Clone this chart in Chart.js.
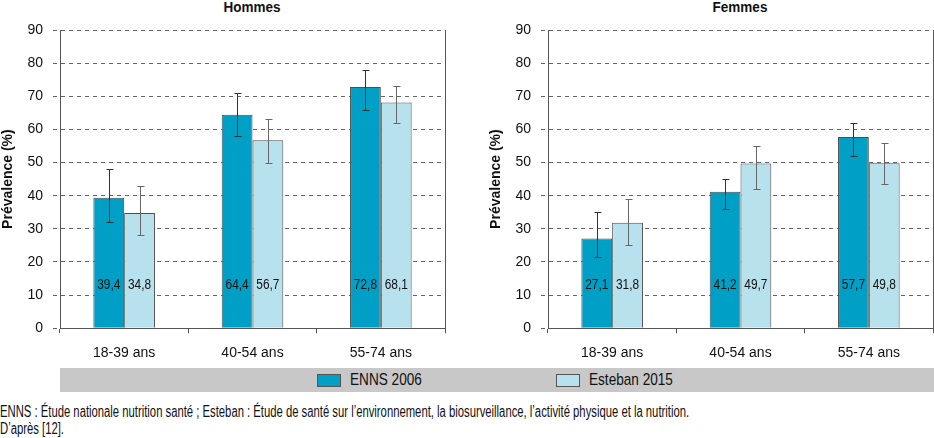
<!DOCTYPE html>
<html>
<head>
<meta charset="utf-8">
<script src="https://cdn.jsdelivr.net/npm/chart.js@4.4.0/dist/chart.umd.min.js"></script>
<style>
html,body{margin:0;padding:0;background:#fff;width:934px;height:438px;overflow:hidden;}
.box{position:absolute;top:0;width:446px;height:374px;}
.title{position:absolute;top:-1px;width:200px;text-align:center;font:bold 15px/16px "Liberation Sans",Arial,sans-serif;color:#111;transform:scaleX(0.9);transform-origin:center;}
#legend{position:absolute;left:60px;top:368px;width:874px;height:24px;background:#c8c8c8;font:17px "Liberation Sans",Arial,sans-serif;color:#111;}
.item{position:absolute;top:0;height:24px;display:flex;align-items:center;}
.sw{width:22px;height:11px;border:1px solid #555;margin-right:9px;}
.lt{display:inline-block;transform:scaleX(0.8);transform-origin:left center;white-space:nowrap;}
#note{position:absolute;left:0;top:403px;font:16px/17px "Liberation Sans",Arial,sans-serif;color:#111;white-space:nowrap;transform:scaleX(0.705);transform-origin:left top;}
</style>
</head>
<body>
<div class="title" style="left:152px">Hommes</div>
<div class="title" style="left:640px">Femmes</div>
<div class="box" style="left:0"><canvas id="c1" width="446" height="374"></canvas></div>
<div class="box" style="left:488px"><canvas id="c2" width="446" height="374"></canvas></div>
<div id="legend">
  <div class="item" style="left:257px"><div class="sw" style="background:#00a0c6"></div><span class="lt" id="l1"></span></div>
  <div class="item" style="left:496px"><div class="sw" style="background:#b8e1ee"></div><span class="lt" id="l2"></span></div>
</div>
<div id="note">ENNS : Étude nationale nutrition santé ; Esteban : Étude de santé sur l’environnement, la biosurveillance, l’activité physique et la nutrition.<br>D’après [12].</div>
<script>
// ---- Data ----
const categories = ['18-39 ans', '40-54 ans', '55-74 ans'];
const seriesNames = ['ENNS 2006', 'Esteban 2015'];
const yTickValues = [0, 10, 20, 30, 40, 50, 60, 70, 80, 90];

const hommesENNS = [39.4, 64.4, 72.8];
const hommesEsteban = [34.8, 56.7, 68.1];
const femmesENNS = [27.1, 41.2, 57.7];
const femmesEsteban = [31.8, 49.7, 49.8];

const hommesENNSLow = [32, 58, 66];
const hommesENNSHigh = [48, 71, 78];
const hommesEstebanLow = [28, 50, 62];
const hommesEstebanHigh = [43, 63, 73];
const femmesENNSLow = [21.5, 36, 52];
const femmesENNSHigh = [35, 45, 62];
const femmesEstebanLow = [25, 42, 43.5];
const femmesEstebanHigh = [39, 55, 56];

const colENNS = '#00a0c6';
const colEsteban = '#b8e1ee';

document.getElementById('l1').textContent = seriesNames[0];
document.getElementById('l2').textContent = seriesNames[1];

function errorBarPlugin(lows, highs, colors) {
  return {
    id: 'errorBars',
    afterDatasetsDraw(chart) {
      const ctx = chart.ctx, y = chart.scales.y;
      lows.forEach((low, di) => {
        const meta = chart.getDatasetMeta(di);
        meta.data.forEach((bar, i) => {
          const x = Math.round(bar.x) + 0.5;
          const yl = Math.round(y.getPixelForValue(low[i])) + 0.5;
          const yh = Math.round(y.getPixelForValue(highs[di][i])) + 0.5;
          ctx.save();
          ctx.strokeStyle = colors[di];
          ctx.lineWidth = 1;
          ctx.beginPath();
          ctx.moveTo(x, yl); ctx.lineTo(x, yh);
          ctx.moveTo(x - 3, yl); ctx.lineTo(x + 4, yl);
          ctx.moveTo(x - 3, yh); ctx.lineTo(x + 4, yh);
          ctx.stroke();
          ctx.restore();
        });
      });
    }
  };
}

const valueLabelPlugin = {
  id: 'valueLabels',
  afterDatasetsDraw(chart) {
    const ctx = chart.ctx, y = chart.scales.y;
    chart.data.datasets.forEach((ds, di) => {
      const meta = chart.getDatasetMeta(di);
      meta.data.forEach((bar, i) => {
        ctx.save();
        ctx.translate(bar.x, y.getPixelForValue(13));
        ctx.scale(0.85, 1);
        ctx.font = '14px "Liberation Sans", Arial, sans-serif';
        ctx.fillStyle = '#111';
        ctx.textAlign = 'center';
        ctx.textBaseline = 'middle';
        ctx.fillText(String(ds.data[i]).replace('.', ','), 0, 0);
        ctx.restore();
      });
    });
  }
};

function makeChart(id, enns, est, lows, highs) {
  return new Chart(document.getElementById(id), {
    type: 'bar',
    data: {
      labels: categories,
      datasets: [
        { label: seriesNames[0], data: enns, backgroundColor: colENNS, borderColor: '#4d4d4d', borderWidth: 1, categoryPercentage: 0.48, barPercentage: 1 },
        { label: seriesNames[1], data: est, backgroundColor: colEsteban, borderColor: '#4d4d4d', borderWidth: 1, categoryPercentage: 0.48, barPercentage: 1 }
      ]
    },
    options: {
      responsive: false,
      animation: false,
      layout: { padding: { top: 30, left: 0, right: 0, bottom: 0 } },
      plugins: { legend: { display: false }, tooltip: { enabled: false } },
      scales: {
        x: {
          offset: true,
          grid: { display: true, offset: true, drawOnChartArea: false, drawTicks: true, tickLength: 5, color: '#555' },
          border: { display: true, color: '#555', width: 1 },
          ticks: { padding: 12, color: '#111', font: { family: '"Liberation Sans", Arial, sans-serif', size: 14 } }
        },
        y: {
          min: 0, max: 90,
          afterBuildTicks(s) { s.ticks = yTickValues.map(v => ({ value: v })); },
          ticks: { padding: 10, color: '#111', font: { family: '"Liberation Sans", Arial, sans-serif', size: 14 } },
          grid: { color: '#666', lineWidth: 1, tickLength: 7, drawTicks: true, tickBorderDash: [4, 4] },
          border: { display: true, color: '#555', width: 1, dash: [4, 4] },
          title: { display: true, text: 'Prévalence (%)', color: '#111', padding: 0, font: { family: '"Liberation Sans", Arial, sans-serif', size: 14, weight: 'bold' } },
          afterFit(s) { s.width = 60; }
        },
        y2: {
          type: 'linear', position: 'right', min: 0, max: 90, display: true,
          ticks: { display: false }, grid: { display: false, drawTicks: false },
          border: { display: true, color: '#555', width: 1 },
          afterFit(s) { s.width = 1; }
        }
      }
    },
    plugins: [errorBarPlugin(lows, highs, ['#333', '#666']), valueLabelPlugin]
  });
}

makeChart('c1', hommesENNS, hommesEsteban, [hommesENNSLow, hommesEstebanLow], [hommesENNSHigh, hommesEstebanHigh]);
makeChart('c2', femmesENNS, femmesEsteban, [femmesENNSLow, femmesEstebanLow], [femmesENNSHigh, femmesEstebanHigh]);
</script>
</body>
</html>
